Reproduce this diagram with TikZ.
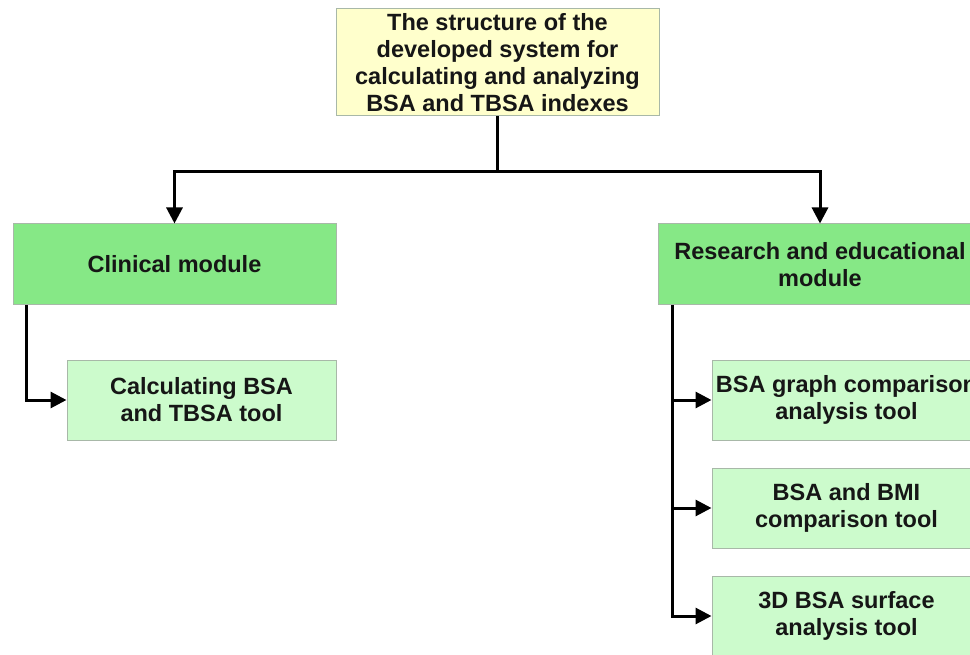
\documentclass[tikz,border=0pt]{standalone}
\usepackage{fontspec}
\setmainfont{Liberation Sans}
\usetikzlibrary{arrows.meta,positioning}
\definecolor{topfill}{HTML}{FFFFCC}
\definecolor{modfill}{HTML}{86E886}
\definecolor{toolfill}{HTML}{CCFBCC}
\definecolor{edge}{HTML}{A8B8A8}
\definecolor{txt}{HTML}{161616}
\tikzset{
  box/.style={draw=edge, line width=1pt, rectangle, align=center, inner sep=0pt,
    font=\fontsize{23.5}{27}\selectfont\bfseries, text=txt},
  topbox/.style={box, fill=topfill, minimum width=323pt, minimum height=107pt},
  modbox/.style={box, fill=modfill, minimum width=323pt, minimum height=81pt},
  toolbox/.style={box, fill=toolfill, minimum width=269pt, minimum height=80pt},
  arr/.style={line width=3pt, -{Triangle[length=16pt,width=16pt]}, black},
  ln/.style={line width=3pt, black}
}
\begin{document}
\begin{tikzpicture}[x=1pt,y=-1pt]
\useasboundingbox (0,0) rectangle (970,655);
\clip (0,0) rectangle (970,655);
\node[topbox] (top) at (497.5,62.5) {The structure of the\\developed system for\\calculating and analyzing\\BSA and TBSA indexes};
\node[modbox] (clin) at (174.5,264.5) {Clinical module};
\node[modbox] (res) at (820,264.5) {Research and educational\\module};
\node[toolbox] (calc) at (201.5,400) {Calculating BSA\\and TBSA tool};
\node[toolbox] (g1) at (846.5,400) {BSA graph comparison\\analysis tool};
\node[toolbox] (g2) at (846.5,508) {BSA and BMI\\comparison tool};
\node[toolbox] (g3) at (846.5,616) {3D BSA surface\\analysis tool};
\coordinate (j) at (497.5,172);
\draw[ln] (top.south) -- (j);
\draw[arr] (j) -| (clin.north);
\draw[arr] (j) -| (res.north);
\coordinate (ls) at (26,305);
\draw[arr] (ls) |- (calc.west);
\coordinate (rs) at (672,305);
\draw[arr] (rs) |- (g3.west);
\draw[arr] (g1.west -| rs) -- (g1.west);
\draw[arr] (g2.west -| rs) -- (g2.west);
\end{tikzpicture}
\end{document}
